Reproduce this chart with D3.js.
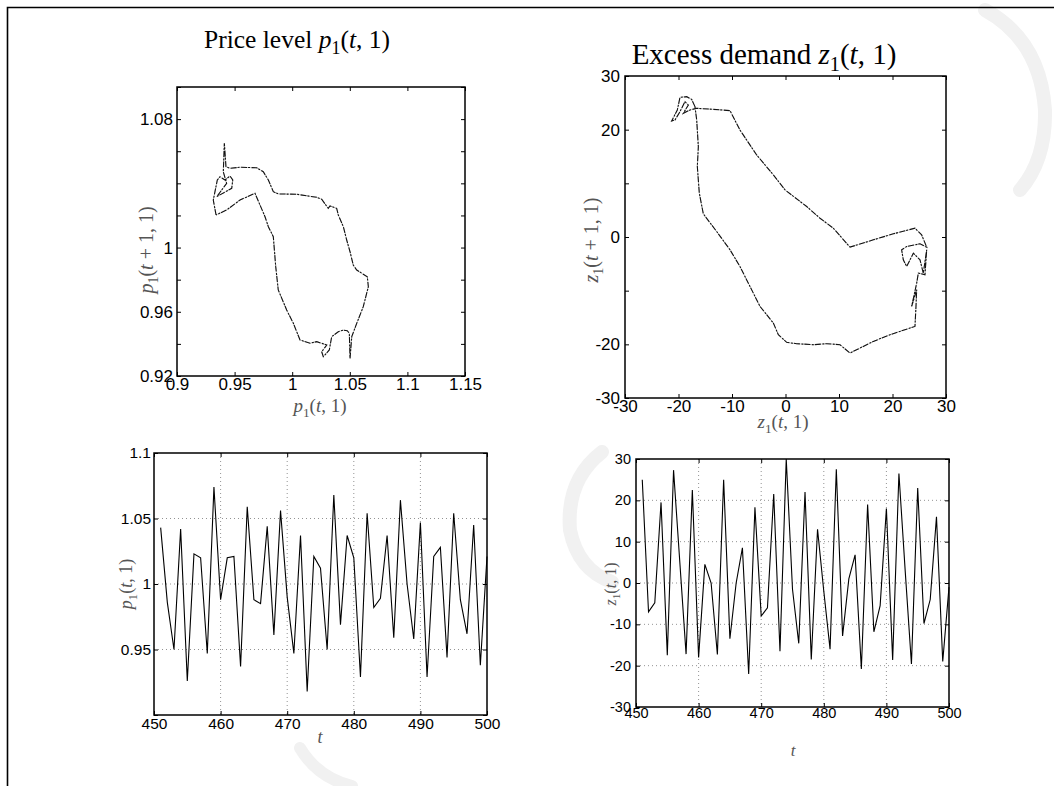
<!DOCTYPE html>
<html>
<head>
<meta charset="utf-8">
<script src="https://cdn.jsdelivr.net/npm/d3@7"></script>
<style>
body{margin:0;background:#fff}
svg{display:block}
</style>
</head>
<body>
<svg id="chart" width="1054" height="786"></svg>
<script>
// time index shared by the two bottom panels
let tVals=[451,452,453,454,455,456,457,458,459,460,461,462,463,464,465,466,467,468,469,470,
  471,472,473,474,475,476,477,478,479,480,481,482,483,484,485,486,487,488,489,490,
  491,492,493,494,495,496,497,498,499,500];

// price level p1(t,1)
let priceVals=[1.043,0.986,0.950,1.042,0.926,1.023,1.020,0.947,1.074,0.988,
  1.020,1.021,0.937,1.059,0.988,0.985,1.044,0.961,1.056,0.990,
  0.947,1.037,0.918,1.021,1.012,0.950,1.068,0.969,1.037,1.020,
  0.929,1.054,0.982,0.989,1.037,0.959,1.064,1.000,0.958,1.047,
  0.929,1.021,1.028,0.944,1.054,0.988,0.962,1.045,0.938,1.021];

// excess demand z1(t,1)
let demandVals=[25,-7,-4.8,19.5,-17.5,27.3,5,-17.2,22.5,-18,
  4.5,0,-17.3,25,-13.5,0,8.5,-22,18.3,-8,
  -6,21.5,-16.5,30,-1.5,-14.6,22,-18.5,13,-2,
  -16,27.5,-12.8,1,6.8,-20.8,19,-11.8,-5.5,18,
  -18.6,26.5,3,-19.6,23,-9.8,-4,16,-19,-1];

// phase portrait p1(t,1) vs p1(t+1,1), traced round the loop
let phasePX=[0.9339,0.9315,0.935,0.9373,0.9417,0.946,0.9484,0.9475,0.9345,0.9431,
  0.9402,0.9411,0.9425,0.946,0.9547,0.9692,0.9749,0.9793,0.9836,0.9879,
  1.0039,1.0213,1.0256,1.0313,1.0328,1.0386,1.04,1.0444,1.0473,1.0502,
  1.053,1.056,1.0652,1.0661,1.0617,1.056,1.0517,1.0502,1.0496,1.0478,
  1.0444,1.04,1.0343,1.0322,1.027,1.0256,1.03,1.0213,1.0155,1.0068,
  1.001,0.9952,0.9879,0.9857,0.9836,0.9793,0.9764,0.9677,0.9547,0.9431,0.9339];
let phasePY=[1.0203,1.0296,1.0421,1.0441,1.0421,1.0446,1.0421,1.0369,1.0317,1.04,
  1.0472,1.0649,1.0504,1.0494,1.05,1.0497,1.0472,1.0421,1.0348,1.0334,
  1.0332,1.0313,1.0301,1.0244,1.0259,1.0244,1.0203,1.013,1.0047,0.9974,
  0.9891,0.986,0.9818,0.9756,0.9632,0.9528,0.9445,0.931,0.9466,0.9482,
  0.9486,0.9476,0.9445,0.9362,0.932,0.9351,0.9393,0.9414,0.9404,0.9424,
  0.9528,0.9611,0.9736,0.9881,1.0068,1.013,1.0192,1.0338,1.0296,1.0234,1.0203];

// phase portrait z1(t,1) vs z1(t+1,1)
let phaseZX=[-16.92,-17.54,-18.47,-19.72,-20.22,-21.28,-20.65,-19.72,-18.79,-18.16,
  -19.1,-17.85,-16.6,-13.49,-10.37,-8.52,-5.39,-2.27,-0.09,3.96,
  6.45,8.94,12.06,16.42,20.16,24.2,25.45,26.39,25.14,22.65,
  21.71,22.02,22.65,23.9,25.14,25.76,26.39,26.07,24.83,24.52,
  23.58,24.52,24.39,24.2,19.53,16.42,12.06,10.19,7.7,5.2,
  2.09,0.22,-1.34,-2.27,-4.77,-6.64,-8.52,-10.37,-12.87,-15.36,
  -16.11,-16.48,-16.29,-16.6,-16.92];
let phaseZY=[24.29,25.65,26.15,26.02,23.67,21.62,21.81,23.36,25.22,24.6,
  23.05,23.67,23.98,23.79,23.54,19.94,15.29,11.57,8.78,5.68,
  3.5,1.64,-1.89,-0.53,0.59,1.64,0.4,-1.89,-1.27,-1.77,
  -2.39,-4.25,-5.49,-3.01,-4.25,-6.73,-2.39,-7.04,-6.73,-8.59,
  -12.93,-9.83,-12.93,-16.66,-18.21,-19.45,-21.62,-20.07,-19.88,-20.07,
  -19.88,-19.63,-18.21,-16.04,-12.93,-9.21,-5.49,-2.39,1.02,4.31,
  8.16,13.12,16.84,21.81,24.29];

// ticks and which of them carry a label
let pXTicks=[0.9,0.95,1,1.05,1.1,1.15];
let pYTicks=[0.92,0.94,0.96,0.98,1,1.02,1.04,1.06,1.08,1.1];
let pYLabels=[0.92,0.96,1,1.08];
let zTicks=[-30,-20,-10,0,10,20,30];
let zYLabels=[-30,-20,0,20,30];
let tTicks=[450,460,470,480,490,500];
let tGrid=[460,470,480,490];
let priceTicks=[0.9,0.95,1,1.05,1.1];
let priceLabels=[0.95,1,1.05,1.1];
let priceGrid=[0.95,1,1.05];
let demandGrid=[-20,-10,0,10,20];

let svg=d3.select("#chart");
let sans='"Liberation Sans",Arial,sans-serif';
let serif='"Liberation Serif","Times New Roman",serif';

// faint watermark strokes behind everything
let mark=svg.append("g").attr("fill","none").attr("stroke","#f1f1f1").attr("stroke-linecap","round");
mark.append("path").attr("stroke-width",14)
  .attr("d","M602,452 Q566,480 570,530 Q578,570 612,582");
mark.append("path").attr("stroke-width",14)
  .attr("d","M985,10 Q1040,40 1045,110 Q1046,160 1020,190");
mark.append("path").attr("stroke-width",12)
  .attr("d","M300,748 Q318,778 352,786");

// page frame
svg.append("path")
  .attr("d","M7.5,786 V7.5 H1054")
  .attr("fill","none").attr("stroke","#000").attr("stroke-width",1.6);

function fmt(v){ return String(+v.toFixed(3)); }

// math-style text: parts are [text, "r"|"i"|"s"]
function mathText(sel,parts,size){
  let low=false;
  parts.forEach(function(p){
    let ts=sel.append("tspan").text(p[0]);
    if(p[1]=="i") ts.attr("font-style","italic");
    if(p[1]=="s"){
      ts.attr("font-size",size*0.7).attr("dy",size*0.25);
      low=true;
    } else if(low){
      ts.attr("dy",-size*0.25);
      low=false;
    }
  });
}

function label(x,y,parts,size,opts){
  opts=opts||{};
  let t=svg.append("text")
    .attr("font-family",serif)
    .attr("font-size",size)
    .attr("fill",opts.color||"#000")
    .attr("text-anchor","middle");
  if(opts.rotate) t.attr("transform","translate("+x+","+y+") rotate(-90)");
  else t.attr("x",x).attr("y",y);
  mathText(t,parts,size);
  return t;
}

function panel(o){
  let x=d3.scaleLinear().domain(o.xDom).range([o.left,o.right]);
  let y=d3.scaleLinear().domain(o.yDom).range([o.bottom,o.top]);
  let g=svg.append("g");

  if(o.gridX){
    g.append("g").selectAll("line").data(o.gridX).enter().append("line")
      .attr("x1",function(d){return x(d);}).attr("x2",function(d){return x(d);})
      .attr("y1",o.top).attr("y2",o.bottom)
      .attr("stroke","#777").attr("stroke-width",0.8).attr("stroke-dasharray","1,3");
    g.append("g").selectAll("line").data(o.gridY).enter().append("line")
      .attr("y1",function(d){return y(d);}).attr("y2",function(d){return y(d);})
      .attr("x1",o.left).attr("x2",o.right)
      .attr("stroke","#777").attr("stroke-width",0.8).attr("stroke-dasharray","1,3");
  }

  let line=d3.line()
    .x(function(d){return x(d[0]);})
    .y(function(d){return y(d[1]);});
  let pts=o.xs.map(function(v,i){return [v,o.ys[i]];});
  if(o.phase){
    g.append("path").datum(pts)
      .attr("d",line).attr("fill","none")
      .attr("stroke","#aaa").attr("stroke-width",0.6);
    g.append("path").datum(pts)
      .attr("d",line).attr("fill","none")
      .attr("stroke","#111").attr("stroke-width",1.1)
      .attr("stroke-dasharray","6,1,2,1.5");
  } else {
    g.append("path").datum(pts)
      .attr("d",line).attr("fill","none")
      .attr("stroke","#000").attr("stroke-width",1.1)
      .attr("stroke-linejoin","miter");
  }

  function clean(a){
    a.select(".domain").remove();
    a.attr("font-family",sans).attr("font-size",o.fontSize);
    a.selectAll(".tick line").attr("stroke","#000");
    a.selectAll(".tick text").attr("fill","#000");
  }
  let xf=function(v){ return o.xLabels.indexOf(v)>=0 ? fmt(v) : ""; };
  let yf=function(v){ return o.yLabels.indexOf(v)>=0 ? fmt(v) : ""; };

  g.append("g").attr("transform","translate(0,"+o.bottom+")")
    .call(d3.axisBottom(x).tickValues(o.xTicks).tickSize(-4).tickPadding(o.xPad).tickFormat(xf))
    .call(clean);
  g.append("g").attr("transform","translate(0,"+o.top+")")
    .call(d3.axisTop(x).tickValues(o.xTicks).tickSize(-4).tickFormat(""))
    .call(clean);
  g.append("g").attr("transform","translate("+o.left+",0)")
    .call(d3.axisLeft(y).tickValues(o.yTicks).tickSize(-4).tickPadding(o.yPad).tickFormat(yf))
    .call(clean);
  g.append("g").attr("transform","translate("+o.right+",0)")
    .call(d3.axisRight(y).tickValues(o.yTicks).tickSize(-4).tickFormat(""))
    .call(clean);

  g.append("rect")
    .attr("x",o.left).attr("y",o.top)
    .attr("width",o.right-o.left).attr("height",o.bottom-o.top)
    .attr("fill","none").attr("stroke","#000").attr("stroke-width",1.5);
}

// top left: price phase plot
panel({left:177,right:465,top:87,bottom:376,
  xDom:[0.9,1.15],yDom:[0.92,1.1],xs:phasePX,ys:phasePY,phase:true,
  xTicks:pXTicks,xLabels:pXTicks,yTicks:pYTicks,yLabels:pYLabels,
  fontSize:17,xPad:2,yPad:4});

// top right: excess demand phase plot
panel({left:625,right:946,top:76,bottom:398,
  xDom:[-30,30],yDom:[-30,30],xs:phaseZX,ys:phaseZY,phase:true,
  xTicks:zTicks,xLabels:zTicks,yTicks:zTicks,yLabels:zYLabels,
  fontSize:17,xPad:2,yPad:5});

// bottom left: price series
panel({left:154,right:487,top:453,bottom:715,
  xDom:[450,500],yDom:[0.9,1.1],xs:tVals,ys:priceVals,
  gridX:tGrid,gridY:priceGrid,
  xTicks:tTicks,xLabels:tTicks,yTicks:priceTicks,yLabels:priceLabels,
  fontSize:15.5,xPad:3,yPad:3});

// bottom right: excess demand series
panel({left:636,right:949,top:459,bottom:707,
  xDom:[450,500],yDom:[-30,30],xs:tVals,ys:demandVals,
  gridX:tGrid,gridY:demandGrid,
  xTicks:tTicks,xLabels:tTicks,yTicks:zTicks,yLabels:zTicks,
  fontSize:14.5,xPad:1,yPad:5});

// titles
label(297,48,[["Price level ","r"],["p","i"],["1","s"],["(","r"],["t","i"],[", 1)","r"]],25.5);
label(764,64,[["Excess demand ","r"],["z","i"],["1","s"],["(","r"],["t","i"],[", 1)","r"]],29);

// axis labels
let grey="#555";
label(320,412,[["p","i"],["1","s"],["(","r"],["t","i"],[", 1)","r"]],19,{color:grey});
label(153,250,[["p","i"],["1","s"],["(","r"],["t","i"],[" + 1, 1)","r"]],20,{color:grey,rotate:true});
label(783,428,[["z","i"],["1","s"],["(","r"],["t","i"],[", 1)","r"]],19,{color:grey});
label(598,240,[["z","i"],["1","s"],["(","r"],["t","i"],[" + 1, 1)","r"]],20,{color:grey,rotate:true});
label(320,743,[["t","i"]],18,{color:grey});
label(132,584,[["p","i"],["1","s"],["(","r"],["t","i"],[", 1)","r"]],18,{color:grey,rotate:true});
label(793,756,[["t","i"]],17,{color:grey});
label(616,584,[["z","i"],["1","s"],["(","r"],["t","i"],[", 1)","r"]],16,{color:grey,rotate:true});
</script>
</body>
</html>
